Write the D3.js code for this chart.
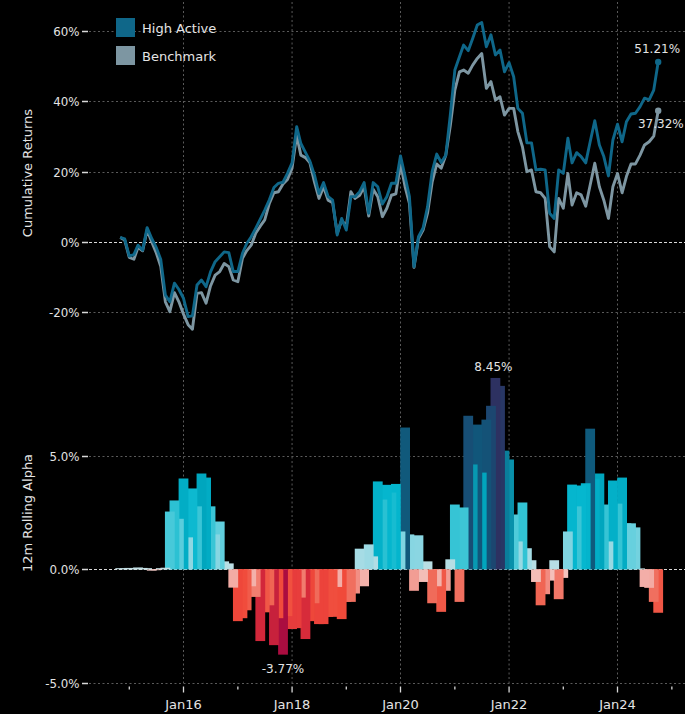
<!DOCTYPE html>
<html>
<head>
<meta charset="utf-8">
<script src="https://cdn.jsdelivr.net/npm/d3@7"></script>
<style>
  html, body { margin: 0; padding: 0; background: #000; }
  svg { display: block; }
  text { font-family: "DejaVu Sans", sans-serif; }
</style>
</head>
<body>
<svg id="chart" width="685" height="714"></svg>
<script>
// Monthly observations, first month Nov 2014
const startMonth = new Date(2014, 10, 1);

// Cumulative returns (%)
const highActive = [
  1.3, 0.9, -4.0, -3.6, -0.9, -2.3, 4.1, 1.0, -1.5, -5.0,
  -15.1, -17.0, -11.7, -13.5, -16.0, -21.2, -21.0, -12.2, -10.8, -12.7,
  -8.5, -5.6, -4.2, -2.8, -3.0, -8.4, -8.4, -3.2, -0.5, 1.5,
  3.9, 6.5, 9.1, 12.0, 15.5, 16.7, 17.0, 19.5, 22.5, 32.8,
  28.0, 25.5, 23.0, 19.0, 13.8, 16.9, 12.9, 11.9, 2.0, 6.7,
  3.4, 12.9, 12.9, 14.3, 16.9, 8.2, 16.9, 15.7, 10.8, 12.9,
  16.7, 16.7, 24.5, 18.6, 12.9, -7.0, 1.5, 4.0, 10.0, 20.0,
  25.0, 22.6, 24.7, 36.0, 48.9, 52.7, 56.0, 54.4, 57.9, 61.7,
  62.4, 55.5, 58.9, 53.2, 54.6, 48.4, 51.0, 47.0, 38.0, 36.6,
  28.2, 28.2, 20.5, 20.7, 20.5, 8.2, 6.7, 20.5, 19.5, 29.5,
  22.5, 25.4, 24.3, 22.5, 28.5, 34.5, 27.6, 24.3, 18.8, 29.0,
  33.5, 28.5, 34.2, 36.4, 36.6, 38.5, 40.9, 40.4, 43.2, 51.21
];

const benchmark = [
  1.3, 0.6, -4.4, -4.9, -1.5, -2.5, 3.4, 0.0, -3.0, -7.0,
  -17.0, -19.8, -14.4, -17.0, -20.5, -23.5, -24.8, -14.6, -14.4, -17.4,
  -12.5, -9.4, -8.4, -6.1, -7.0, -10.8, -11.3, -4.6, -2.5, -0.9,
  2.5, 4.5, 6.3, 11.0, 14.0, 14.3, 16.5, 17.8, 21.0, 30.4,
  24.7, 24.0, 22.5, 17.0, 12.4, 15.7, 11.9, 11.2, 2.5, 6.2,
  4.4, 14.3, 12.4, 13.3, 15.7, 7.4, 15.0, 12.9, 7.2, 9.6,
  13.3, 13.7, 22.4, 15.7, 11.0, -7.2, 1.0, 3.4, 8.2, 17.0,
  22.2, 21.0, 24.7, 33.0, 43.2, 48.4, 48.9, 48.0, 50.3, 52.2,
  53.6, 43.7, 45.6, 40.4, 41.3, 36.1, 38.0, 38.0, 31.4, 27.1,
  20.0, 20.5, 14.3, 14.0, 12.4, -1.3, -2.8, 12.4, 9.6, 19.5,
  10.5, 14.0, 13.4, 10.2, 16.2, 22.4, 15.7, 11.9, 6.7, 15.7,
  19.5, 14.0, 18.6, 22.2, 22.2, 24.7, 27.6, 28.5, 30.1, 37.32
];

// 12-month rolling alpha (%)
const rollingAlpha = [
  0.05, 0.04, 0.06, 0.05, 0.08, 0.06, 0.05, -0.06, -0.04, 0.05,
  0.07, 2.55, 3.04, 2.23, 4.01, 1.41, 3.57, 2.78, 4.23, 4.05,
  2.78, 1.54, 2.11, 0.35, 0.26, -0.81, -2.29, -2.16, -1.81, -0.75,
  -1.22, -3.17, -1.9, -1.59, -3.35, -2.16, -3.77, -2.07, -2.64, -2.6,
  -1.25, -3.08, -2.29, -1.5, -2.42, -2.42, -2.1, -2.1, -0.78, -2.2,
  -1.44, -1.44, -1.07, 0.91, -0.75, 1.1, 0.57, 3.88, 3.08, 3.73,
  3.39, 3.77, 1.67, 6.26, 1.54, -0.95, 1.5, -0.56, 0.35, -1.5,
  -0.75, -1.88, -0.95, 0.44, 2.86, -1.44, 2.73, 6.78, 4.63, 6.39,
  4.27, 6.61, 7.22, 8.45, 8.1, 5.24, 4.85, 2.42, 1.23, 2.95,
  0.93, 0.4, -0.56, -1.59, -1.1, -0.5, 0.4, -1.32, -0.38, 1.67,
  3.74, 2.78, 3.7, 3.8, 6.21, 4.0, 4.23, 2.86, 1.23, 3.92,
  2.9, 4.05, 2.03, 2.03, 1.85, 0.04, -0.78, -0.82, -1.44, -1.92
];

const seriesNames = ["High Active", "Benchmark"];
const seriesColors = ["#0f6789", "#7d96a2"];
const returnTicks = [-20, 0, 20, 40, 60];
const alphaTicks = [-5, 0, 5];
const labeledYears = [2016, 2018, 2020, 2022, 2024];
const minorYears = [2015, 2017, 2019, 2021, 2023, 2025];

const dates = highActive.map((_, i) => d3.timeMonth.offset(startMonth, i));

const W = 685, H = 714;
const plotLeft = 89, plotRight = W;
const svg = d3.select("#chart");

svg.append("rect").attr("width", W).attr("height", H).attr("fill", "#000");

const x = d3.scaleTime()
  .domain([new Date(2016, 0, 1), new Date(2024, 0, 1)])
  .range([183.5, 617.5]);

const yRet = d3.scaleLinear().domain([-28, 66]).range([340.5, 9.9]);
const yAlpha = d3.scaleLinear().domain([-5, 9]).range([682.5, 365.5]);

const gridColor = "#5a5a5a";
const textColor = "#e4e4e4";

// plain hyphen for negatives
const signed = s => s.replace("\u2212", "-");

// vertical grid at labelled years
svg.append("g").selectAll("line")
  .data(labeledYears)
  .join("line")
  .attr("x1", d => x(new Date(d, 0, 1)))
  .attr("x2", d => x(new Date(d, 0, 1)))
  .attr("y1", 2)
  .attr("y2", 683)
  .attr("stroke", gridColor)
  .attr("stroke-width", 1)
  .attr("stroke-dasharray", "2,2.5");

// horizontal grids
function hGrid(scale, ticks) {
  const g = svg.append("g");
  g.selectAll("line")
    .data(ticks)
    .join("line")
    .attr("x1", plotLeft)
    .attr("x2", plotRight)
    .attr("y1", d => Math.round(scale(d)) + 0.5)
    .attr("y2", d => Math.round(scale(d)) + 0.5)
    .attr("stroke", d => d === 0 ? "#d8d8d8" : gridColor)
    .attr("stroke-width", 1)
    .attr("stroke-dasharray", d => d === 0 ? "3,2" : "2,2.5");
}
hGrid(yRet, returnTicks);
hGrid(yAlpha, alphaTicks);

// y axes (ticks + labels, no domain line)
function yAxis(scale, ticks, fmt) {
  const g = svg.append("g");
  const t = g.selectAll("g").data(ticks).join("g")
    .attr("transform", d => `translate(0,${Math.round(scale(d)) + 0.5})`);
  t.append("line").attr("x1", 82).attr("x2", 88)
    .attr("stroke", "#d8d8d8").attr("stroke-width", 1.5);
  t.append("text").attr("x", 79.5).attr("dy", "0.36em")
    .attr("text-anchor", "end").attr("fill", textColor)
    .attr("font-size", "11.8px").text(fmt);
}
yAxis(yRet, returnTicks, d => (d < 0 ? "-" : "") + Math.abs(d) + "%");
yAxis(yAlpha, alphaTicks, d => (d < 0 ? "-" : "") + Math.abs(d).toFixed(1) + "%");

// axis titles
svg.append("text")
  .attr("transform", "translate(31.5,173) rotate(-90)")
  .attr("text-anchor", "middle").attr("fill", textColor)
  .attr("font-size", "13px").text("Cumulative Returns");
svg.append("text")
  .attr("transform", "translate(31.5,513) rotate(-90)")
  .attr("text-anchor", "middle").attr("fill", textColor)
  .attr("font-size", "13px").text("12m Rolling Alpha");

// x axis
const xg = svg.append("g");
xg.selectAll("line.major").data(labeledYears).join("line")
  .attr("class", "major")
  .attr("x1", d => x(new Date(d, 0, 1))).attr("x2", d => x(new Date(d, 0, 1)))
  .attr("y1", 686.5).attr("y2", 692.5)
  .attr("stroke", "#d8d8d8").attr("stroke-width", 1.3);
xg.selectAll("line.minor").data(minorYears).join("line")
  .attr("class", "minor")
  .attr("x1", d => x(new Date(d, 0, 1))).attr("x2", d => x(new Date(d, 0, 1)))
  .attr("y1", 686.5).attr("y2", 689.5)
  .attr("stroke", "#d8d8d8").attr("stroke-width", 1.3);
const fmtMonth = d3.timeFormat("%b%y");
xg.selectAll("text").data(labeledYears).join("text")
  .attr("x", d => x(new Date(d, 0, 1)))
  .attr("y", 708.5)
  .attr("text-anchor", "middle").attr("fill", textColor)
  .attr("font-size", "13px")
  .text(d => fmtMonth(new Date(d, 0, 1)));

// alpha bar colours
const posColor = d3.scaleLinear()
  .domain([0, 0.9, 1.5, 2.1, 2.6, 3.0, 3.7, 4.2, 4.7, 5.2, 6.2, 7.2, 8.5])
  .range(["#c4dfe4", "#a6dce5", "#8ad6e2", "#62cfdd", "#44c8d8", "#2ec2d3",
          "#05b7cf", "#00a7bf", "#0897b0", "#0a809c", "#0f5a7c", "#1c4670", "#2e3060"])
  .clamp(true);
const negColor = d3.scaleLinear()
  .domain([0, 0.6, 0.85, 1.2, 1.6, 2.2, 2.7, 3.1, 3.4, 3.8])
  .range(["#f6cfcc", "#f3bcb6", "#f3a9a2", "#f17f72", "#f06452", "#f04a3a",
          "#e63a3c", "#d62a3a", "#c41f3c", "#a80c40"])
  .clamp(true);
const barColor = v => v >= 0 ? posColor(v) : negColor(-v);

// bars: wider than one month so neighbours overlap; earlier months sit on top
const step = x(dates[1]) - x(dates[0]);
const barW = step * 2.2;
const alphaData = rollingAlpha.map((v, i) => ({ date: dates[i], v }));
svg.append("g").selectAll("rect")
  .data(alphaData.slice().reverse())
  .join("rect")
  .attr("x", d => x(d.date) - barW / 2)
  .attr("width", barW)
  .attr("y", d => Math.min(yAlpha(d.v), yAlpha(0)))
  .attr("height", d => Math.abs(yAlpha(d.v) - yAlpha(0)))
  .attr("fill", d => barColor(d.v));

// max / min alpha labels
const fmtPct = v => signed(d3.format(".2f")(v)) + "%";
const iMax = d3.maxIndex(rollingAlpha);
const iMin = d3.minIndex(rollingAlpha);
svg.append("text")
  .attr("x", x(dates[iMax]) - 2)
  .attr("y", yAlpha(rollingAlpha[iMax]) - 7)
  .attr("text-anchor", "middle").attr("fill", textColor)
  .attr("font-size", "12px").text(fmtPct(rollingAlpha[iMax]));
svg.append("text")
  .attr("x", x(dates[iMin]))
  .attr("y", yAlpha(rollingAlpha[iMin]) + 18)
  .attr("text-anchor", "middle").attr("fill", textColor)
  .attr("font-size", "12px").text(fmtPct(rollingAlpha[iMin]));

// cumulative return lines
const line = d3.line()
  .x((d, i) => x(dates[i]))
  .y(d => yRet(d));
const series = [highActive, benchmark];
[1, 0].forEach(s => {
  svg.append("path")
    .datum(series[s])
    .attr("d", line)
    .attr("fill", "none")
    .attr("stroke", seriesColors[s])
    .attr("stroke-width", 2.9)
    .attr("stroke-linejoin", "round");
});

// end points and value labels
const last = dates.length - 1;
const endLabels = [
  { dx: -1, dy: -9, anchor: "middle" },
  { dx: 25.5, dy: 17, anchor: "end" }
];
series.forEach((s, k) => {
  const cx = x(dates[last]), cy = yRet(s[last]);
  svg.append("circle").attr("cx", cx).attr("cy", cy).attr("r", 3.2)
    .attr("fill", seriesColors[k]);
  svg.append("text")
    .attr("x", cx + endLabels[k].dx)
    .attr("y", cy + endLabels[k].dy)
    .attr("text-anchor", endLabels[k].anchor).attr("fill", textColor)
    .attr("font-size", "12px").text(fmtPct(s[last]));
});

// legend
const legend = svg.append("g").selectAll("g")
  .data(seriesNames)
  .join("g")
  .attr("transform", (d, i) => `translate(116,${18 + i * 28})`);
legend.append("rect").attr("width", 19).attr("height", 19)
  .attr("fill", (d, i) => seriesColors[i]);
legend.append("text").attr("x", 26).attr("y", 15)
  .attr("fill", textColor).attr("font-size", "13px").text(d => d);
</script>
</body>
</html>
